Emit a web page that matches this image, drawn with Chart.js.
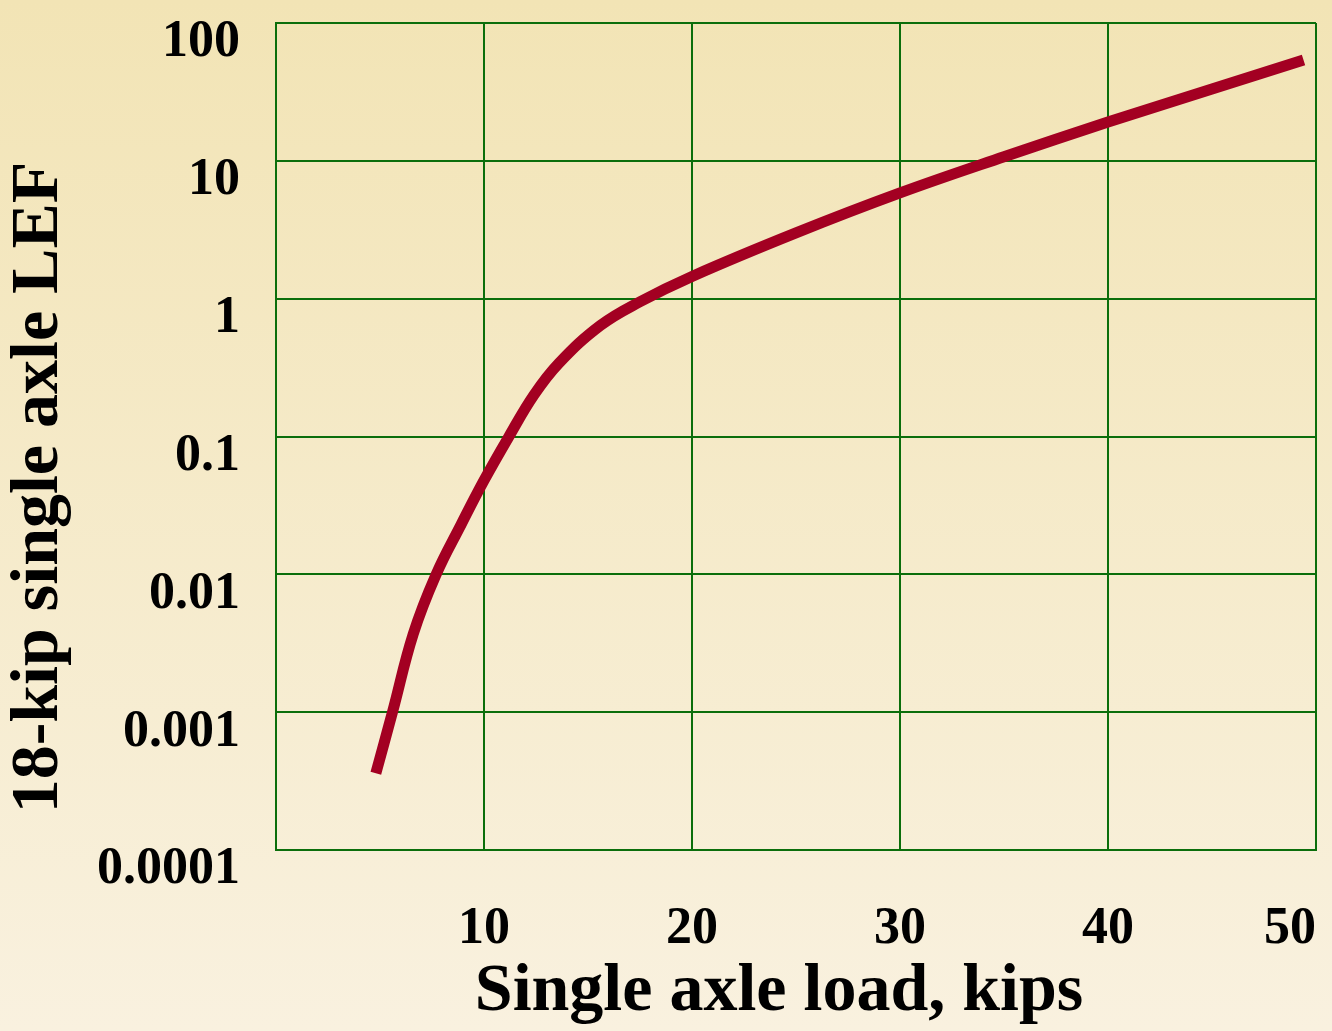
<!DOCTYPE html>
<html>
<head>
<meta charset="utf-8">
<title>18-kip single axle LEF</title>
<script src="https://cdn.jsdelivr.net/npm/chart.js@4"></script>
<style>
    html, body { margin: 0; padding: 0; }
    body { background: linear-gradient(to bottom, #f2e4b5, #f9f1df); }
    #wrap { width: 1332px; height: 1031px; position: relative; }
</style>
</head>
<body>
<div id="wrap"><canvas id="lefChart"></canvas></div>
<script>
// values
const axleLoad = [4.8, 5.6, 6.6, 7.7, 8.9, 10, 11.2, 12.4, 13.6, 15.6, 17.5, 20, 25, 30, 35, 40, 45, 49.4];
const lef = [0.00036, 0.001, 0.0037, 0.01, 0.023, 0.048, 0.1, 0.2, 0.34, 0.64, 0.95, 1.45, 3.0, 5.85, 10.7, 19.1, 33.2, 54];

const yTicks = [0.0001, 0.001, 0.01, 0.1, 1, 10, 100];
const yTickLabels = ['0.0001', '0.001', '0.01', '0.1', '1', '10', '100'];
const xTicks = [0, 10, 20, 30, 40, 50];
const xTickLabels = ['', '10', '20', '30', '40', '50'];

const serif = "'Liberation Serif', 'Times New Roman', serif";
const gridGreen = '#0b6e0b';

const points = axleLoad.map((x, i) => ({x: x, y: lef[i]}));

const ctx = document.getElementById('lefChart').getContext('2d');
const lefChart = new Chart(ctx, {
    type: 'line',
    data: {
        datasets: [{
            data: points,
            borderColor: '#a30022',
            borderWidth: 11,
            borderCapStyle: 'butt',
            pointRadius: 0,
            tension: 0.4,
            fill: false
        }]
    },
    options: {
        responsive: true,
        maintainAspectRatio: false,
        animation: false,
        layout: {
            padding: {top: 23, right: 16, left: 0, bottom: 0}
        },
        plugins: {
            legend: {display: false},
            tooltip: {enabled: false}
        },
        scales: {
            x: {
                type: 'linear',
                min: 0,
                max: 50,
                afterBuildTicks: scale => {
                    scale.ticks = xTicks.map(v => ({value: v}));
                },
                afterFit: scale => {
                    scale.height = 181;
                    scale.paddingLeft = 0;
                    scale.paddingRight = 0;
                },
                grid: {color: gridGreen, lineWidth: 2, drawTicks: false},
                border: {color: gridGreen, width: 2},
                ticks: {
                    align: 'inner',
                    padding: 48,
                    color: '#000',
                    font: {family: serif, size: 52, weight: 'bold'},
                    callback: (value) => xTickLabels[xTicks.indexOf(value)] ?? ''
                },
                title: {
                    display: true,
                    text: 'Single axle load, kips\u00a0\u00a0',
                    color: '#000',
                    font: {family: serif, size: 68, weight: 'bold', lineHeight: 1},
                    padding: {top: 0, bottom: 5}
                }
            },
            y: {
                type: 'logarithmic',
                min: 0.0001,
                max: 100,
                afterBuildTicks: scale => {
                    scale.ticks = yTicks.map(v => ({value: v, major: true}));
                },
                afterFit: scale => {
                    scale.width = 276;
                    scale.paddingTop = 0;
                    scale.paddingBottom = 0;
                },
                grid: {color: gridGreen, lineWidth: 2, drawTicks: false},
                border: {color: gridGreen, width: 2},
                ticks: {
                    padding: 36,
                    labelOffset: 20,
                    color: '#000',
                    font: {family: serif, size: 52, weight: 'bold'},
                    callback: (value) => yTickLabels[yTicks.indexOf(value)] ?? ''
                },
                title: {
                    display: true,
                    text: '18-kip single axle LEF' + '\u00a0'.repeat(6),
                    color: '#000',
                    font: {family: serif, size: 68, weight: 'bold', lineHeight: 1},
                    padding: {top: 5, bottom: 0}
                }
            }
        }
    }
});
</script>
</body>
</html>
